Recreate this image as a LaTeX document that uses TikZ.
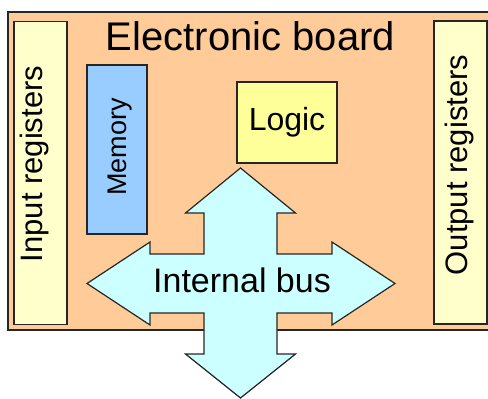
\documentclass[tikz,border=0pt]{standalone}
\usepackage{fontspec}
\setmainfont{Liberation Sans}
\definecolor{boardfill}{RGB}{255,204,153}
\definecolor{regfill}{RGB}{255,255,204}
\definecolor{memfill}{RGB}{153,204,255}
\definecolor{logicfill}{RGB}{255,255,153}
\definecolor{busfill}{RGB}{204,255,255}

\begin{document}
\begin{tikzpicture}[x=1pt,y=-1pt,
    box/.style={rectangle,draw=black!85,line width=1.6pt,inner sep=0pt},
    board/.style={box,fill=boardfill,minimum width=484pt,minimum height=318pt},
    reg/.style={box,fill=regfill,minimum width=53pt,minimum height=303pt},
    mem/.style={box,fill=memfill,minimum width=60pt,minimum height=169pt},
    logic/.style={box,fill=logicfill,minimum width=100pt,minimum height=81pt},
    bus/.style={draw=black!85,line width=1.2pt,fill=busfill},
    vtext/.style={rotate=90,inner sep=0pt}]
    \useasboundingbox (0,0) rectangle (488,399);
    \node[board] (board) at (250,171) {};
    \node[anchor=base] (title) at (250.5,50) {\fontsize{40}{48}\selectfont Electronic board};
    \node[reg] (inreg) at (40.5,173) {};
    \node[vtext,font=\fontsize{31}{36}\selectfont] (inlabel) at (34,164) {Input registers};
    \node[reg] (outreg) at (460.5,172.5) {};
    \node[vtext,font=\fontsize{31}{36}\selectfont] (outlabel) at (459,165) {Output registers};
    \node[mem] (memory) at (117,149.5) {};
    \node[vtext,font=\fontsize{27}{32}\selectfont] (memlabel) at (120,147) {Memory};
    \node[logic,font=\fontsize{32}{38}\selectfont] (logic) at (287,122.5) {Logic};
    % internal bus, four-way arrow
    \draw[bus] (240.5,168) -- (295.5,213) -- (277,213) -- (277,254) -- (332,254) -- (332,242)
        -- (395,283.5) -- (332,325) -- (332,313) -- (277,313) -- (277,354) -- (295.5,354)
        -- (240.5,398) -- (185.5,354) -- (204,354) -- (204,313) -- (150,313) -- (150,325)
        -- (87,283.5) -- (150,242) -- (150,254) -- (204,254) -- (204,213) -- (185.5,213) -- cycle;
    \node[anchor=base,font=\fontsize{34}{40}\selectfont] (buslabel) at (242,292.7) {Internal bus};
\end{tikzpicture}
\end{document}
